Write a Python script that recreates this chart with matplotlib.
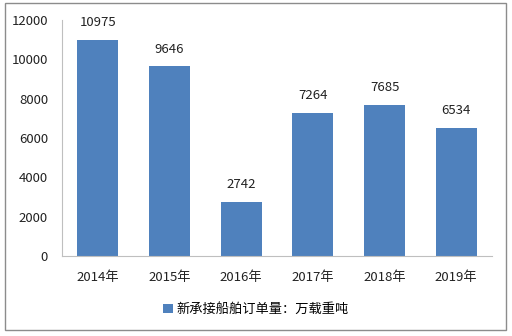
import matplotlib
matplotlib.use('Agg')
import matplotlib.pyplot as plt
from matplotlib.patches import Rectangle

plt.rcParams['font.family'] = ['Noto Sans CJK SC', 'DejaVu Sans']

years = ['2014年', '2015年', '2016年', '2017年', '2018年', '2019年']
orders = [10975, 9646, 2742, 7264, 7685, 6534]
yticks = [0, 2000, 4000, 6000, 8000, 10000, 12000]
series_name = '新承接船舶订单量：万载重吨'

fig = plt.figure(figsize=(5.12, 3.36), dpi=100)
ax = fig.add_axes([0.121, 0.238, 0.840, 0.702])

# outer chart border
fig.patches.append(Rectangle((0.010, 0.018), 0.978, 0.972, transform=fig.transFigure,
                             fill=False, edgecolor='#8c8c8c', linewidth=1.0))

bars = ax.bar(range(len(years)), orders, width=0.57, color='#4F81BD', label=series_name)
for bar, v in zip(bars, orders):
    ax.text(bar.get_x() + bar.get_width() / 2, v + 550, str(v),
            ha='center', va='bottom', fontsize=9.5, color='#222222')

ax.set_xlim(-0.5, len(years) - 0.5)
ax.set_ylim(0, 12000)
ax.set_yticks(yticks)
ax.set_xticks(range(len(years)))
ax.set_xticklabels(years)
ax.tick_params(length=0, labelsize=9.5, colors='#222222')
ax.tick_params(axis='y', pad=10)
ax.tick_params(axis='x', pad=11)
for s in ['top', 'right']:
    ax.spines[s].set_visible(False)
for s in ['left', 'bottom']:
    ax.spines[s].set_color('#bfbfbf')

fig.legend(handles=[bars], labels=[series_name], loc='center', bbox_to_anchor=(0.5, 0.078),
           frameon=False, fontsize=9.5, handlelength=0.7, handleheight=0.7, handletextpad=0.3)

fig.savefig('out.png', dpi=100)
